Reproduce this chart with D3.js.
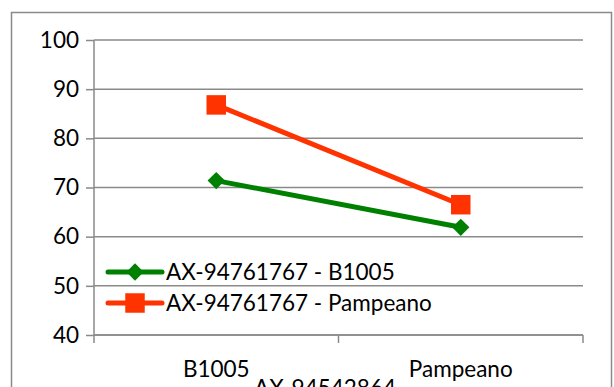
<!DOCTYPE html>
<html>
<head>
<meta charset="utf-8">
<script src="https://cdn.jsdelivr.net/npm/d3@7"></script>
<style>
  body { margin: 0; background: #fff; }
  text { font-family: Lato, "Open Sans", sans-serif; fill: #000; }
</style>
</head>
<body>
<div id="chart"></div>
<script>
// data
var categories = ["B1005", "Pampeano"];
var seriesNames = ["AX-94761767 - B1005", "AX-94761767 - Pampeano"];
var valuesB1005 = [71.4, 61.9];
var valuesPampeano = [86.8, 66.5];
var yTicks = [40, 50, 60, 70, 80, 90, 100];
var xTitle = "AX-94542864";

var W = 614, H = 387;
var margin = {top: 40, right: 31, bottom: 52, left: 94},
    width = W - margin.left - margin.right,
    height = H - margin.top - margin.bottom;

var fontSize = "22.5px";

var svg = d3.select("#chart")
  .append("svg")
    .attr("width", W)
    .attr("height", H);

// outer chart border
svg.append("rect")
  .attr("x", 11.5).attr("y", 12.5)
  .attr("width", 600).attr("height", 400)
  .attr("fill", "none")
  .attr("stroke", "#8a8a8a")
  .attr("stroke-width", 1.5);

var g = svg.append("g")
  .attr("transform", "translate(" + margin.left + "," + margin.top + ")");

var x = d3.scaleBand()
  .domain(categories)
  .range([0, width]);

var y = d3.scaleLinear()
  .domain([40, 100])
  .range([height, 0]);

// gridlines
g.append("g")
  .selectAll("line")
  .data(yTicks)
  .enter().append("line")
    .attr("x1", 0).attr("x2", width)
    .attr("y1", function(d) { return y(d); })
    .attr("y2", function(d) { return y(d); })
    .attr("stroke", "#8a8a8a")
    .attr("stroke-width", 1.5);

// Y axis
var yAxis = g.append("g")
  .call(d3.axisLeft(y).tickValues(yTicks).tickSize(8).tickPadding(7));
yAxis.selectAll("path, line").attr("stroke", "#8a8a8a").attr("stroke-width", 1.5);
yAxis.select(".domain").attr("d", "M0,0V" + height);
yAxis.selectAll("text").style("font-size", fontSize).attr("font-family", null);

// X axis with ticks between categories
var xAxis = g.append("g")
  .attr("transform", "translate(0," + height + ")");
xAxis.append("line")
  .attr("x1", 0).attr("x2", width)
  .attr("stroke", "#8a8a8a").attr("stroke-width", 1.5);
xAxis.selectAll(".sep")
  .data([0, 1, 2])
  .enter().append("line")
    .attr("class", "sep")
    .attr("x1", function(d) { return d * x.bandwidth(); })
    .attr("x2", function(d) { return d * x.bandwidth(); })
    .attr("y1", 0).attr("y2", 8)
    .attr("stroke", "#8a8a8a").attr("stroke-width", 1.5);
xAxis.selectAll(".cat")
  .data(categories)
  .enter().append("text")
    .attr("class", "cat")
    .attr("x", function(d) { return x(d) + x.bandwidth() / 2; })
    .attr("y", 42)
    .attr("text-anchor", "middle")
    .style("font-size", fontSize)
    .text(function(d) { return d; });

// axis title (cut off at the bottom, as in the original)
svg.append("text")
  .attr("x", 325)
  .attr("y", 396)
  .attr("text-anchor", "middle")
  .style("font-size", fontSize)
  .text(xTitle);

var cx = function(i) { return x(categories[i]) + x.bandwidth() / 2; };
var line = d3.line()
  .x(function(d, i) { return cx(i); })
  .y(function(d) { return y(d); });

var series = [
  {name: seriesNames[0], values: valuesB1005, color: "#008000", rotate: 45, size: 150},
  {name: seriesNames[1], values: valuesPampeano, color: "#ff3300", rotate: 0, size: 380}
];

series.forEach(function(s) {
  g.append("path")
    .datum(s.values)
    .attr("d", line)
    .attr("fill", "none")
    .attr("stroke", s.color)
    .attr("stroke-width", 5);
  g.selectAll(null)
    .data(s.values)
    .enter().append("path")
      .attr("transform", function(d, i) {
        return "translate(" + cx(i) + "," + y(d) + ") rotate(" + s.rotate + ")";
      })
      .attr("d", d3.symbol().type(d3.symbolSquare).size(s.size))
      .attr("fill", s.color);
});

// legend
var legend = svg.append("g")
  .attr("transform", "translate(108,272)");
series.forEach(function(s, i) {
  var row = legend.append("g").attr("transform", "translate(0," + (i * 31) + ")");
  row.append("rect")
    .attr("x", -4).attr("y", -12).attr("width", 300).attr("height", 24)
    .attr("fill", "#fff");
  row.append("line")
    .attr("x1", 0).attr("x2", 54)
    .attr("stroke", s.color).attr("stroke-width", 5)
    .attr("stroke-linecap", "round");
  row.append("path")
    .attr("transform", "translate(27,0) rotate(" + s.rotate + ")")
    .attr("d", d3.symbol().type(d3.symbolSquare).size(s.size))
    .attr("fill", s.color);
  row.append("text")
    .attr("x", 58)
    .attr("y", 8)
    .style("font-size", fontSize)
    .text(s.name);
});
</script>
</body>
</html>
